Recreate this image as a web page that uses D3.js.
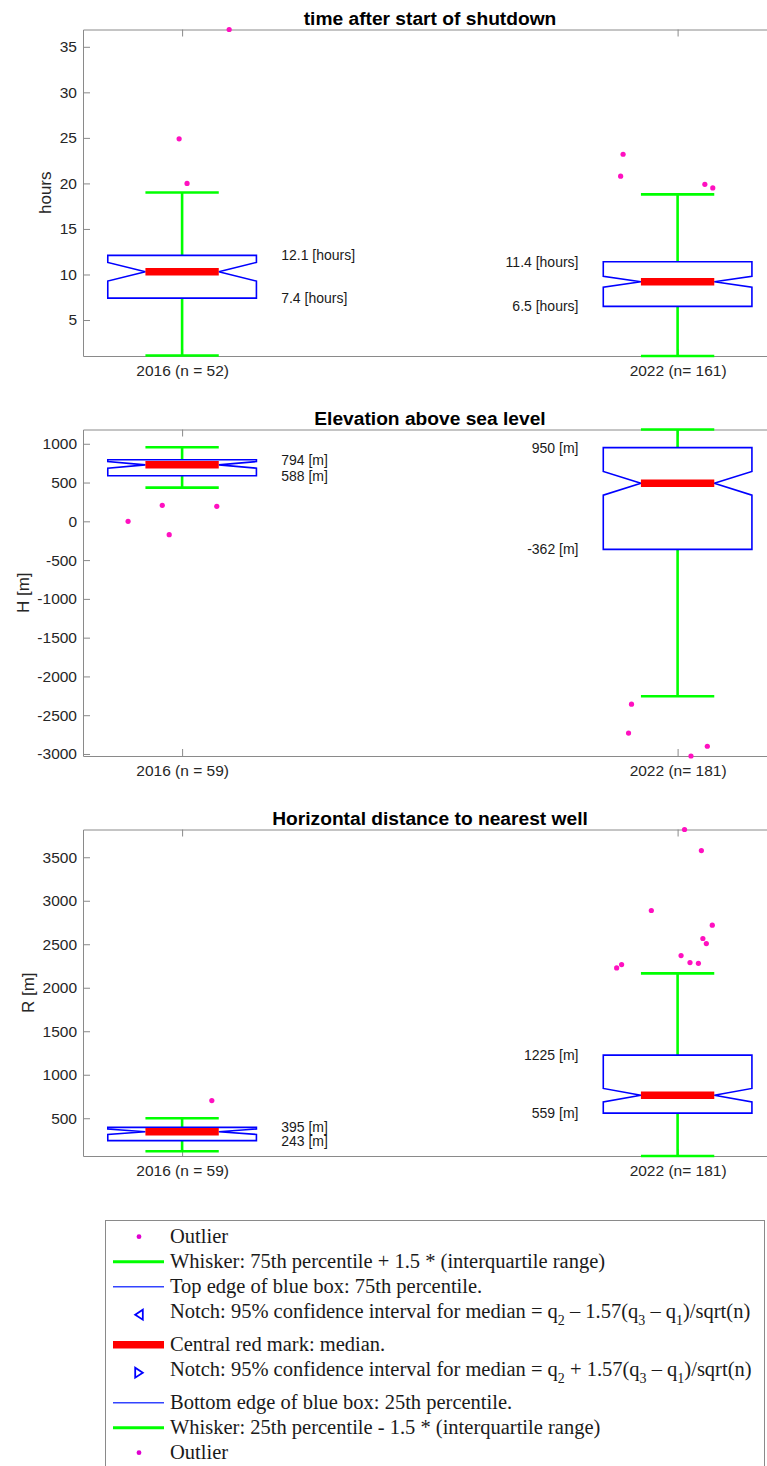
<!DOCTYPE html>
<html>
<head>
<meta charset="utf-8">
<script src="https://cdn.jsdelivr.net/npm/d3@7"></script>
<style>
body { margin: 0; background: #fff; }
svg { display: block; }
</style>
</head>
<body>
<div id="svganchor"></div>
<script>
let width = 767;
let height = 1466;

// data
const groups = [1, 2];
const panelTitles = ["time after start of shutdown", "Elevation above sea level", "Horizontal distance to nearest well"];
const yLabels = ["hours", "H [m]", "R [m]"];
const units = ["hours", "m", "m"];
const xTickLabels = [
    ["2016 (n = 52)", "2022 (n= 161)"],
    ["2016 (n = 59)", "2022 (n= 181)"],
    ["2016 (n = 59)", "2022 (n= 181)"]
];
const nSamples = [[52, 161], [59, 181], [59, 181]];
const q1 = [[7.4, 6.5], [588, -362], [243, 559]];
const q3 = [[12.1, 11.4], [794, 950], [395, 1225]];
const medians = [[10.3, 9.2], [728, 490], [345, 765]];
const whiskerLow = [[1.1, 1.05], [435, -2255], [120, 66]];
const whiskerHigh = [[19.0, 18.8], [955, 1184], [500, 2165]];
const outlierValues = [
    [[36.9, 24.9, 20.0], [23.2, 20.8, 19.9, 19.5]],
    [[0, 206, -172, 193], [-2358, -2731, -2900, -3026]],
    [[703], [3819, 3577, 2888, 2719, 2566, 2508, 2370, 2289, 2281, 2266, 2228]]
];
// horizontal jitter of outliers, in category units
const outlierJitter = [
    [[0.095, -0.006, 0.01], [-0.11, -0.115, 0.055, 0.071]],
    [[-0.109, -0.04, -0.026, 0.07], [-0.093, -0.099, 0.06, 0.027]],
    [[0.06], [0.014, 0.048, -0.053, 0.07, 0.051, 0.058, 0.007, 0.025, 0.042, -0.113, -0.123]]
];
const yTicks = [
    [5, 10, 15, 20, 25, 30, 35],
    [-3000, -2500, -2000, -1500, -1000, -500, 0, 500, 1000],
    [500, 1000, 1500, 2000, 2500, 3000, 3500]
];

const legendLabels = [
    ["Outlier"],
    ["Whisker: 75th percentile + 1.5 * (interquartile range)"],
    ["Top edge of blue box: 75th percentile."],
    ["Notch: 95% confidence interval for median = q", "2", " \u2013 1.57(q", "3", " \u2013 q", "1", ")/sqrt(n)"],
    ["Central red mark: median."],
    ["Notch: 95% confidence interval for median = q", "2", " + 1.57(q", "3", " \u2013 q", "1", ")/sqrt(n)"],
    ["Bottom edge of blue box: 25th percentile."],
    ["Whisker: 25th percentile - 1.5 * (interquartile range)"],
    ["Outlier"]
];
const legendSymbols = ["dot", "green", "blue", "triLeft", "red", "triRight", "blue", "green", "dot"];

// styling
const green = "#00ff00", blue = "#0000ff", red = "#ff0000", pink = "#ff10c0";
const axisColor = "#8a8a8a", textColor = "#262626";
const sans = "'Liberation Sans', Arial, Helvetica, sans-serif";

let margin = ({top: 29.5, left: 83, panelHeight: 326.5, panelStep: 400});

let svg = d3.select("#svganchor")
    .append("svg")
    .attr("width", width)
    .attr("height", height)
    .style("font-family", sans);

let xScale = d3.scaleLinear()
    .domain([0.8, 2.2])
    .range([margin.left, margin.left + 1.4 * 495.5]);

const boxHalf = 0.15, capHalf = 0.074;

panelTitles.forEach((title, i) => {
    let top = margin.top + i * margin.panelStep;
    let bottom = top + margin.panelHeight;

    let allVals = whiskerLow[i].concat(whiskerHigh[i], outlierValues[i].flat());
    let yScale = d3.scaleLinear()
        .domain(d3.extent(allVals))
        .range([bottom, top]);

    let g = svg.append("g").attr("class", "panel");

    // axes (box on, right side runs off the page)
    let yAxis = g.append("g")
        .attr("transform", "translate(" + margin.left + ",0)")
        .call(d3.axisLeft(yScale).tickValues(yTicks[i]).tickSizeInner(-7).tickSizeOuter(0).tickPadding(6)
            .tickFormat(d => String(d)));

    let xAxis = g.append("g")
        .attr("transform", "translate(0," + bottom + ")")
        .call(d3.axisBottom(xScale).tickValues(groups).tickSizeInner(-7).tickSizeOuter(0).tickPadding(9)
            .tickFormat((d, k) => xTickLabels[i][k]));

    let xAxisTop = g.append("g")
        .attr("transform", "translate(0," + top + ")")
        .call(d3.axisTop(xScale).tickValues(groups).tickSizeInner(-7).tickSizeOuter(0).tickFormat(""));

    [yAxis, xAxis, xAxisTop].forEach(a => {
        a.select(".domain").attr("stroke", axisColor).attr("stroke-width", 1);
        a.selectAll(".tick line").attr("stroke", axisColor);
        a.selectAll("text").attr("fill", textColor).style("font-size", "15.5px").attr("font-family", sans);
    });

    // y label placed left of tick labels
    let bb = yAxis.node().getBBox();
    g.append("text")
        .attr("transform", "translate(" + (margin.left + bb.x - 14.5) + "," + ((top + bottom) / 2) + ") rotate(-90)")
        .attr("dy", "0.35em")
        .attr("text-anchor", "middle")
        .style("font-size", "17px")
        .attr("fill", textColor)
        .text(yLabels[i]);

    // title
    g.append("text")
        .attr("x", 430)
        .attr("y", top - 4.5)
        .attr("text-anchor", "middle")
        .style("font-size", "19.2px")
        .style("font-weight", "bold")
        .attr("fill", "#000")
        .text(title);

    let boxes = groups.map((c, j) => {
        let notch = 1.57 * (q3[i][j] - q1[i][j]) / Math.sqrt(nSamples[i][j]);
        return {
            c: c, q1: q1[i][j], q3: q3[i][j], med: medians[i][j],
            lo: whiskerLow[i][j], hi: whiskerHigh[i][j],
            nLo: medians[i][j] - notch, nHi: medians[i][j] + notch
        };
    });

    // whiskers
    boxes.forEach(d => {
        let wg = g.append("g").attr("stroke", green).attr("stroke-width", 2.6);
        wg.append("line")
            .attr("x1", xScale(d.c)).attr("x2", xScale(d.c))
            .attr("y1", yScale(d.q3)).attr("y2", yScale(d.hi));
        wg.append("line")
            .attr("x1", xScale(d.c)).attr("x2", xScale(d.c))
            .attr("y1", yScale(d.q1)).attr("y2", yScale(d.lo));
        wg.append("line")
            .attr("x1", xScale(d.c - capHalf)).attr("x2", xScale(d.c + capHalf))
            .attr("y1", yScale(d.hi)).attr("y2", yScale(d.hi));
        wg.append("line")
            .attr("x1", xScale(d.c - capHalf)).attr("x2", xScale(d.c + capHalf))
            .attr("y1", yScale(d.lo)).attr("y2", yScale(d.lo));
    });

    // notched boxes
    let line = d3.line().x(p => xScale(p[0])).y(p => yScale(p[1]));
    g.selectAll(".box")
        .data(boxes)
        .enter()
        .append("path")
        .attr("class", "box")
        .attr("fill", "none")
        .attr("stroke", blue)
        .attr("stroke-width", 1.6)
        .attr("d", d => line([
            [d.c - boxHalf, d.q3], [d.c + boxHalf, d.q3], [d.c + boxHalf, d.nHi],
            [d.c + capHalf, d.med], [d.c + boxHalf, d.nLo], [d.c + boxHalf, d.q1],
            [d.c - boxHalf, d.q1], [d.c - boxHalf, d.nLo], [d.c - capHalf, d.med],
            [d.c - boxHalf, d.nHi]
        ]) + "Z");

    // medians
    g.selectAll(".median")
        .data(boxes)
        .enter()
        .append("line")
        .attr("class", "median")
        .attr("stroke", red)
        .attr("stroke-width", 7.5)
        .attr("x1", d => xScale(d.c - capHalf))
        .attr("x2", d => xScale(d.c + capHalf))
        .attr("y1", d => yScale(d.med))
        .attr("y2", d => yScale(d.med));

    // outliers
    let pts = [];
    groups.forEach((c, j) => {
        outlierValues[i][j].forEach((v, k) => pts.push({x: c + outlierJitter[i][j][k], v: v}));
    });
    g.selectAll(".outlier")
        .data(pts)
        .enter()
        .append("circle")
        .attr("class", "outlier")
        .attr("cx", d => xScale(d.x))
        .attr("cy", d => yScale(d.v))
        .attr("r", 2.6)
        .attr("fill", pink);

    // quartile annotations
    boxes.forEach((d, j) => {
        let left = j === 0;
        [d.q3, d.q1].forEach(v => {
            g.append("text")
                .attr("x", xScale(left ? d.c + 0.2 : d.c - 0.2))
                .attr("y", yScale(v))
                .attr("dy", "0.35em")
                .attr("text-anchor", left ? "start" : "end")
                .style("font-size", "14px")
                .attr("fill", "#1a1a1a")
                .text(v + " [" + units[i] + "]");
        });
    });
});

// legend
let legend = svg.append("g").attr("class", "legend");
legend.append("rect")
    .attr("x", 105.5)
    .attr("y", 1220.5)
    .attr("width", 659)
    .attr("height", 300)
    .attr("fill", "#fff")
    .attr("stroke", "#8a8a8a")
    .attr("stroke-width", 1);

let rowY = 1236.7;
legendLabels.forEach((parts, r) => {
    let sym = legendSymbols[r];
    let row = legend.append("g");
    if (sym === "dot") {
        row.append("circle").attr("cx", 139).attr("cy", rowY).attr("r", 2.4).attr("fill", "#e000d0");
    } else if (sym === "green" || sym === "blue" || sym === "red") {
        row.append("line")
            .attr("x1", 113).attr("x2", 164)
            .attr("y1", rowY).attr("y2", rowY)
            .attr("stroke", sym === "green" ? green : sym === "blue" ? "#3344ff" : red)
            .attr("stroke-width", sym === "green" ? 3 : sym === "blue" ? 1.6 : 7.5);
    } else {
        let dir = sym === "triLeft" ? -1 : 1;
        let cx = 139, cy = rowY + 3;
        row.append("path")
            .attr("d", "M" + (cx + dir * 3.8) + "," + cy +
                "L" + (cx - dir * 3.8) + "," + (cy - 5) +
                "L" + (cx - dir * 3.8) + "," + (cy + 5) + "Z")
            .attr("fill", "none")
            .attr("stroke", blue)
            .attr("stroke-width", 1.8);
    }
    let t = row.append("text")
        .attr("x", 170)
        .attr("y", rowY)
        .attr("dy", "0.33em")
        .attr("fill", "#1a1a1a")
        .style("font-family", "'Liberation Serif', 'Times New Roman', serif")
        .style("font-size", "20.5px");
    parts.forEach((p, k) => {
        let isSub = k % 2 === 1;
        t.append("tspan")
            .attr("dy", isSub ? 7 : (k > 0 ? -7 : null))
            .style("font-size", isSub ? "14px" : null)
            .text(p);
    });
    rowY += parts.length > 1 ? 33 : 25;
});
</script>
</body>
</html>
